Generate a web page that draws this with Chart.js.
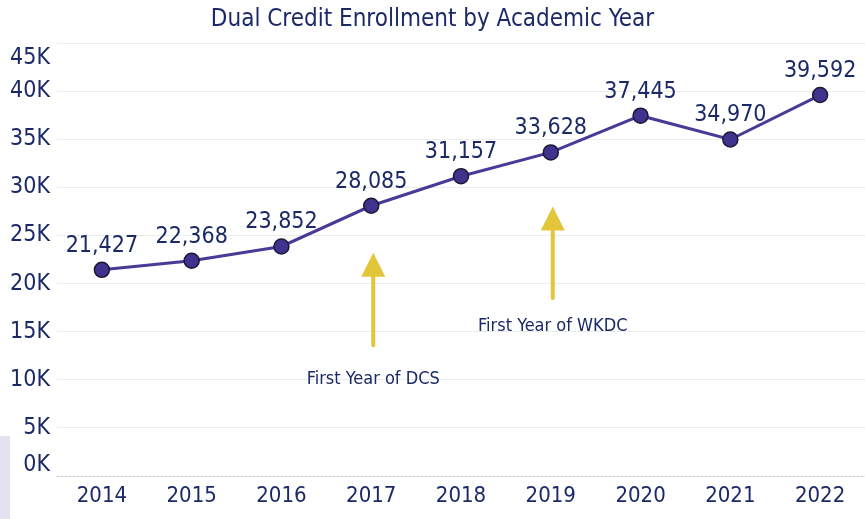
<!DOCTYPE html>
<html>
<head>
<meta charset="utf-8">
<script src="https://cdn.jsdelivr.net/npm/chart.js@4/dist/chart.umd.min.js"></script>
<style>
  html, body { margin: 0; padding: 0; background: #ffffff; }
  #wrap { position: relative; width: 865px; height: 519px; }
  #side { position: absolute; left: 0; top: 436px; width: 10px; height: 83px; background: #e3e3ef; }
  canvas { position: absolute; left: 0; top: 0; }
</style>
</head>
<body>
<div id="wrap">
  <div id="side"></div>
  <canvas id="c" width="865" height="519"></canvas>
</div>
<script>
const years = ['2014','2015','2016','2017','2018','2019','2020','2021','2022'];
const enrollment = [21427, 22368, 23852, 28085, 31157, 33628, 37445, 34970, 39592];
const yTicks = [0, 5000, 10000, 15000, 20000, 25000, 30000, 35000, 40000, 45000];
const annotationYears = ['2017', '2019'];
const annotationTexts = ['First Year of DCS', 'First Year of WKDC'];
const arrowTips = [23200, 28000];
const arrowTails = [13600, 18500];
const annotationTextValues = [10000, 15600];

const NAVY = '#1b2a66';
const FONT = '"DejaVu Sans Condensed", "DejaVu Sans", sans-serif';

const labelsPlugin = {
  id: 'valueLabels',
  afterDatasetsDraw(chart) {
    const ctx = chart.ctx;
    const meta = chart.getDatasetMeta(0);
    ctx.save();
    ctx.font = '23px ' + FONT;
    ctx.fillStyle = NAVY;
    ctx.textAlign = 'center';
    ctx.textBaseline = 'middle';
    meta.data.forEach((pt, i) => {
      ctx.fillText(enrollment[i].toLocaleString('en-US'), pt.x, pt.y - 24);
    });
    ctx.restore();
  }
};

const arrowPlugin = {
  id: 'arrows',
  afterDatasetsDraw(chart) {
    const ctx = chart.ctx;
    const xs = chart.scales.x, ys = chart.scales.y;
    ctx.save();
    annotationYears.forEach((yr, i) => {
      const x = xs.getPixelForValue(years.indexOf(yr)) + 2;
      const tip = ys.getPixelForValue(arrowTips[i]);
      const tail = ys.getPixelForValue(arrowTails[i]);
      const headH = 24, headW = 12;
      ctx.strokeStyle = '#e3c53a';
      ctx.fillStyle = '#e3c53a';
      ctx.lineWidth = 4;
      ctx.lineCap = 'round';
      ctx.beginPath();
      ctx.moveTo(x, tail);
      ctx.lineTo(x, tip + headH - 2);
      ctx.stroke();
      ctx.beginPath();
      ctx.moveTo(x, tip);
      ctx.lineTo(x - headW, tip + headH);
      ctx.lineTo(x + headW, tip + headH);
      ctx.closePath();
      ctx.fill();
      ctx.font = '18px ' + FONT;
      ctx.fillStyle = NAVY;
      ctx.textAlign = 'center';
      ctx.textBaseline = 'middle';
      ctx.fillText(annotationTexts[i], x, ys.getPixelForValue(annotationTextValues[i]));
    });
    ctx.restore();
  }
};

const xAxisLinePlugin = {
  id: 'xAxisLine',
  beforeDatasetsDraw(chart) {
    const ctx = chart.ctx;
    const a = chart.chartArea;
    const y0 = chart.scales.y.getPixelForValue(0);
    ctx.save();
    ctx.strokeStyle = '#c8c8c8';
    ctx.lineWidth = 1;
    ctx.setLineDash([2, 2]);
    ctx.beginPath();
    ctx.moveTo(a.left, y0 + 0.5);
    ctx.lineTo(a.right, y0 + 0.5);
    ctx.stroke();
    ctx.restore();
  }
};

new Chart(document.getElementById('c'), {
  type: 'line',
  data: {
    labels: years,
    datasets: [{
      data: enrollment,
      borderColor: '#4a3a98',
      borderWidth: 3,
      backgroundColor: '#40338f',
      pointBackgroundColor: '#40338f',
      pointBorderColor: '#1a1a33',
      pointBorderWidth: 1.5,
      pointRadius: 7.5,
      tension: 0,
      clip: false
    }]
  },
  options: {
    responsive: false,
    animation: false,
    layout: { padding: 0, autoPadding: false },
    plugins: {
      legend: { display: false },
      tooltip: { enabled: false },
      title: {
        display: true,
        text: 'Dual Credit Enrollment by Academic Year',
        color: NAVY,
        font: { family: FONT, size: 24, weight: 'normal', lineHeight: 1.2 },
        padding: { top: 5, bottom: 9.2 }
      }
    },
    scales: {
      x: {
        offset: true,
        grid: { display: false, drawTicks: false },
        border: { display: false },
        ticks: { color: NAVY, font: { family: FONT, size: 22 }, padding: 7, maxRotation: 0, autoSkip: false },
        afterFit(s) { s.height = 43; s.paddingLeft = 0; s.paddingRight = 0; }
      },
      y: {
        min: 0,
        max: 45000,
        afterBuildTicks(s) { s.ticks = yTicks.map(v => ({ value: v })); },
        grid: { color: '#ececec', lineWidth: 1, drawTicks: false },
        border: { display: false },
        ticks: {
          color: NAVY,
          font: (c) => {
            const v = c.tick ? c.tick.value : null;
            if (v === 45000) return { family: FONT, size: 23, lineHeight: 1.35 };
            if (v === 0) return { family: FONT, size: 23, lineHeight: 0.95 };
            return { family: FONT, size: 23, lineHeight: 1.2 };
          },
          padding: 7,
          autoSkip: false,
          callback: (v) => {
            const t = (v / 1000) + 'K';
            if (v === 45000) return ['', t];
            if (v === 0) return [t, ''];
            return t;
          }
        },
        afterFit(s) { s.width = 57; }
      }
    }
  },
  plugins: [xAxisLinePlugin, arrowPlugin, labelsPlugin]
});
</script>
</body>
</html>
